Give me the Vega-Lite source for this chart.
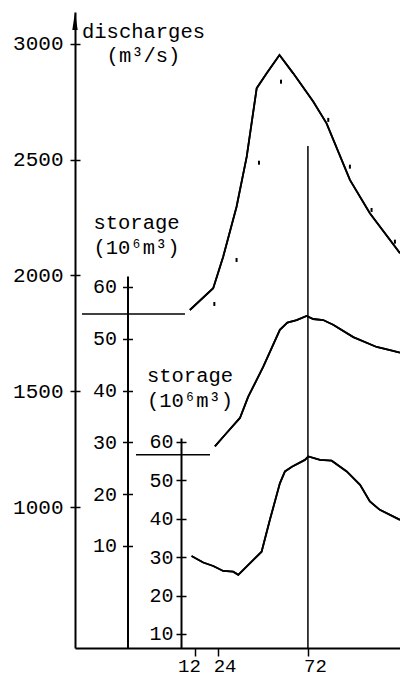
{
  "$schema": "https://vega.github.io/schema/vega-lite/v6.json",
  "width": 325,
  "height": 636,
  "autosize": "none",
  "padding": {"left": 75, "top": 12, "right": 0, "bottom": 31},
  "background": "white",
  "config": {
    "view": {"stroke": null},
    "axis": {
      "grid": false,
      "domainColor": "black",
      "tickColor": "black",
      "labelColor": "black",
      "titleColor": "black",
      "labelFont": "Liberation Mono, DejaVu Sans Mono",
      "titleFont": "Liberation Mono, DejaVu Sans Mono",
      "labelFontSize": 20,
      "titleFontSize": 20.5,
      "titleFontWeight": "normal",
      "domainWidth": 2,
      "tickWidth": 1.5,
      "format": "d"
    }
  },
  "datasets": {
    "discharge": [
      {"hour": 9.3, "discharge": 1851},
      {"hour": 21.7, "discharge": 1945},
      {"hour": 27.0, "discharge": 2081},
      {"hour": 34.1, "discharge": 2297},
      {"hour": 39.5, "discharge": 2513},
      {"hour": 44.8, "discharge": 2809},
      {"hour": 50.1, "discharge": 2873},
      {"hour": 56.9, "discharge": 2952},
      {"hour": 64.2, "discharge": 2873},
      {"hour": 74.8, "discharge": 2751},
      {"hour": 81.9, "discharge": 2657},
      {"hour": 94.3, "discharge": 2413},
      {"hour": 104.9, "discharge": 2269},
      {"hour": 120.9, "discharge": 2096}
    ],
    "measured": [
      {"hour": 22.3, "discharge": 1877},
      {"hour": 34.1, "discharge": 2067},
      {"hour": 46.0, "discharge": 2487},
      {"hour": 57.7, "discharge": 2837},
      {"hour": 82.8, "discharge": 2672},
      {"hour": 94.3, "discharge": 2470},
      {"hour": 105.8, "discharge": 2283},
      {"hour": 118.2, "discharge": 2146}
    ],
    "discharge_initial": [
      {"hour": -48, "hour_end": 6.7, "discharge": 1834}
    ],
    "peak_time": [
      {"hour": 72, "discharge": 2559, "discharge_low": 391}
    ],
    "axis_arrow": [
      {"hour": -51.7, "discharge": 3099}
    ],
    "storage_upper": [
      {"hour": 22.6, "storage": 29.2},
      {"hour": 28.8, "storage": 31.8},
      {"hour": 35.9, "storage": 34.7},
      {"hour": 40.3, "storage": 38.8},
      {"hour": 48.3, "storage": 44.6},
      {"hour": 57.1, "storage": 51.7},
      {"hour": 61.1, "storage": 53.1},
      {"hour": 66.0, "storage": 53.6},
      {"hour": 71.3, "storage": 54.4},
      {"hour": 74.8, "storage": 53.8},
      {"hour": 80.1, "storage": 53.6},
      {"hour": 85.4, "storage": 52.7},
      {"hour": 96.1, "storage": 50.3},
      {"hour": 108.5, "storage": 48.4},
      {"hour": 115.6, "storage": 47.8},
      {"hour": 120.9, "storage": 47.3}
    ],
    "storage_upper_initial": [
      {"hour": -19.3, "hour_end": 20, "storage": 27.6}
    ],
    "storage_lower": [
      {"hour": 10.2, "storage": 30.3},
      {"hour": 16.4, "storage": 28.6},
      {"hour": 21.7, "storage": 27.7},
      {"hour": 27.0, "storage": 26.4},
      {"hour": 32.3, "storage": 26.2},
      {"hour": 35.0, "storage": 25.4},
      {"hour": 47.4, "storage": 31.4},
      {"hour": 51.8, "storage": 39.7},
      {"hour": 57.1, "storage": 49.2},
      {"hour": 59.8, "storage": 52.3},
      {"hour": 63.5, "storage": 53.5},
      {"hour": 70.4, "storage": 55.3},
      {"hour": 72.2, "storage": 56.2},
      {"hour": 78.4, "storage": 55.3},
      {"hour": 84.6, "storage": 55.1},
      {"hour": 92.6, "storage": 52.3},
      {"hour": 99.7, "storage": 48.8},
      {"hour": 104.9, "storage": 44.5},
      {"hour": 110.2, "storage": 42.3},
      {"hour": 120.9, "storage": 39.7}
    ]
  },
  "encoding": {
    "x": {
      "field": "hour",
      "type": "quantitative",
      "scale": {"domain": [-51.7, 120.9], "nice": false, "zero": false},
      "axis": {
        "values": [12, 24, 72],
        "title": null,
        "tickSize": 8,
        "labelPadding": 0,
        "labelFontSize": 19,
        "labelFlush": false,
        "labelOverlap": false,
        "labelOffset": {"condition": {"test": "datum.value == 12", "value": -6}, "value": 7}
      }
    }
  },
  "layer": [
    {
      "encoding": {
        "y": {
          "field": "discharge",
          "type": "quantitative",
          "scale": {"domain": [391, 3138], "nice": false, "zero": false},
          "axis": {
            "orient": "left",
            "values": [1000, 1500, 2000, 2500, 3000],
            "tickSize": 5,
            "labelPadding": 7,
            "labelFontSize": 21,
            "title": ["discharges", "(m³/s)"],
            "titleAngle": 0,
            "titleX": 68,
            "titleY": 25,
            "titleAlign": "center",
            "titleBaseline": "alphabetic",
            "titleLineHeight": 24
          }
        }
      },
      "layer": [
        {
          "data": {"name": "discharge"},
          "mark": {"type": "line", "color": "black", "strokeWidth": 1.8}
        },
        {
          "data": {"name": "measured"},
          "mark": {"type": "point", "shape": "M-0.5,-1H0.5V1H-0.5Z", "size": 16, "filled": true, "color": "black", "opacity": 1}
        },
        {
          "data": {"name": "peak_time"},
          "mark": {"type": "rule", "color": "black", "strokeWidth": 1.5},
          "encoding": {"y2": {"field": "discharge_low"}}
        },
        {
          "data": {"name": "discharge_initial"},
          "mark": {"type": "rule", "color": "black", "strokeWidth": 1.5},
          "encoding": {"x2": {"field": "hour_end"}}
        },
        {
          "data": {"name": "axis_arrow"},
          "mark": {"type": "point", "shape": "M0,-1L0.3,1L-0.3,1Z", "size": 324, "filled": true, "color": "black", "opacity": 1}
        }
      ]
    },
    {
      "encoding": {
        "y": {
          "field": "storage",
          "type": "quantitative",
          "scale": {"domain": [-9.7, 62.1], "range": [636, 264], "nice": false, "zero": false},
          "axis": {
            "orient": "left",
            "offset": -52.5,
            "values": [10, 20, 30, 40, 50, 60],
            "tickSize": 5,
            "labelPadding": 6,
            "title": ["storage", "(10⁶m³)"],
            "titleAngle": 0,
            "titleX": 8.5,
            "titleY": 216,
            "titleAlign": "center",
            "titleBaseline": "alphabetic",
            "titleLineHeight": 25
          }
        }
      },
      "layer": [
        {
          "data": {"name": "storage_upper"},
          "mark": {"type": "line", "color": "black", "strokeWidth": 1.8}
        },
        {
          "data": {"name": "storage_upper_initial"},
          "mark": {"type": "rule", "color": "black", "strokeWidth": 1.5},
          "encoding": {"x2": {"field": "hour_end"}}
        }
      ]
    },
    {
      "data": {"name": "storage_lower"},
      "mark": {"type": "line", "color": "black", "strokeWidth": 1.8},
      "encoding": {
        "y": {
          "field": "storage",
          "type": "quantitative",
          "scale": {"domain": [6.35, 61], "range": [636, 426], "nice": false, "zero": false},
          "axis": {
            "orient": "left",
            "offset": -106,
            "values": [10, 20, 30, 40, 50, 60],
            "tickSize": 5,
            "labelPadding": 3,
            "title": ["storage", "(10⁶m³)"],
            "titleAngle": 0,
            "titleX": 8.5,
            "titleY": 369,
            "titleAlign": "center",
            "titleBaseline": "alphabetic",
            "titleLineHeight": 25
          }
        }
      }
    },
    {
      "data": {"name": "discharge"},
      "mark": {"type": "line", "color": "black", "strokeWidth": 1.8},
      "encoding": {
        "y": {
          "field": "discharge",
          "type": "quantitative",
          "scale": {"domain": [391, 3138], "nice": false, "zero": false},
          "axis": {
            "orient": "left",
            "values": [1000, 1500, 2000, 2500, 3000],
            "tickSize": -5,
            "labels": false,
            "domain": false,
            "title": null
          }
        }
      }
    },
    {
      "data": {"name": "storage_upper"},
      "mark": {"type": "line", "color": "black", "strokeWidth": 1.8},
      "encoding": {
        "y": {
          "field": "storage",
          "type": "quantitative",
          "scale": {"domain": [-9.7, 62.1], "range": [636, 264], "nice": false, "zero": false},
          "axis": {
            "orient": "left",
            "offset": -52.5,
            "values": [10, 20, 30, 40, 50, 60],
            "tickSize": -5,
            "labels": false,
            "domain": false,
            "title": null
          }
        }
      }
    },
    {
      "data": {"name": "storage_lower"},
      "mark": {"type": "line", "color": "black", "strokeWidth": 1.8},
      "encoding": {
        "y": {
          "field": "storage",
          "type": "quantitative",
          "scale": {"domain": [6.35, 61], "range": [636, 426], "nice": false, "zero": false},
          "axis": {
            "orient": "left",
            "offset": -106,
            "values": [10, 20, 30, 40, 50, 60],
            "tickSize": -5,
            "labels": false,
            "domain": false,
            "title": null
          }
        }
      }
    }
  ],
  "resolve": {"scale": {"y": "independent"}, "axis": {"y": "independent"}}
}
